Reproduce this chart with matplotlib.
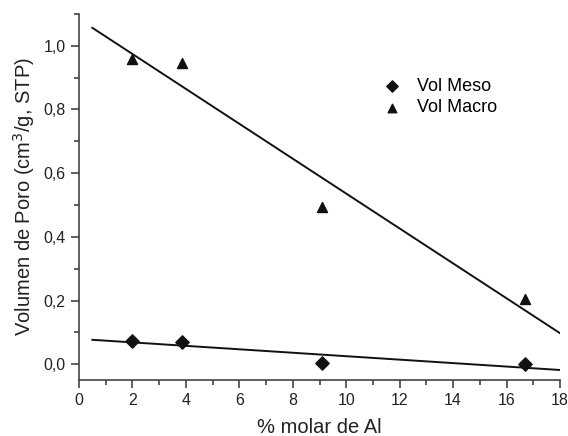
import matplotlib
matplotlib.use("Agg")
import matplotlib.pyplot as plt
import numpy as np
from matplotlib.ticker import MultipleLocator, FuncFormatter

plt.rcParams['font.family'] = ['Liberation Sans', 'DejaVu Sans']

# % molar Al
al = [1.97, 3.84, 9.1, 16.67]
vol_meso = [0.072, 0.070, 0.005, 0.0]
vol_macro = [0.960, 0.945, 0.495, 0.205]

fig = plt.figure(figsize=(5.68, 4.36), dpi=100)
ax = fig.add_axes([0.139, 0.128, 0.847, 0.84])

ax.scatter(al, vol_meso, marker='D', s=46, color='#111111', label='Vol Meso', zorder=3)
ax.scatter(al, vol_macro, marker='^', s=52, color='#111111', label='Vol Macro', zorder=3)

# linear fits drawn from 0.5 to 18
xf = np.array([0.5, 18])
for ys in (vol_meso, vol_macro):
    m, b = np.polyfit(al, ys, 1)
    ax.plot(xf, m * xf + b, color='#111111', lw=1.4)

ax.set_xlim(0, 18)
ax.set_ylim(-0.05, 1.1)
ax.xaxis.set_major_locator(MultipleLocator(2))
ax.xaxis.set_minor_locator(MultipleLocator(1))
ax.yaxis.set_major_locator(MultipleLocator(0.2))
ax.yaxis.set_minor_locator(MultipleLocator(0.1))
ax.yaxis.set_major_formatter(FuncFormatter(lambda v, p: f"{v:.1f}".replace('.', ',')))

for s in ('top', 'right'):
    ax.spines[s].set_visible(False)
for s in ('left', 'bottom'):
    ax.spines[s].set_color('#444444')
    ax.spines[s].set_linewidth(1.2)
ax.tick_params(which='major', length=6, width=1.2, color='#444444', labelsize=11.5, labelcolor='#222222')
ax.tick_params(which='minor', length=3.5, width=1.2, color='#444444')

ax.set_xlabel('% molar de Al', fontsize=14.5, color='#222222', labelpad=7)
ax.set_ylabel('Volumen de Poro (cm$^3$/g, STP)', fontsize=14.5, color='#222222', labelpad=5)

ax.legend(loc='upper left', bbox_to_anchor=(0.58, 0.87), frameon=False, fontsize=13,
          handletextpad=0.35, labelspacing=0.25, markerscale=0.85)

fig.savefig('out.png', dpi=100)
